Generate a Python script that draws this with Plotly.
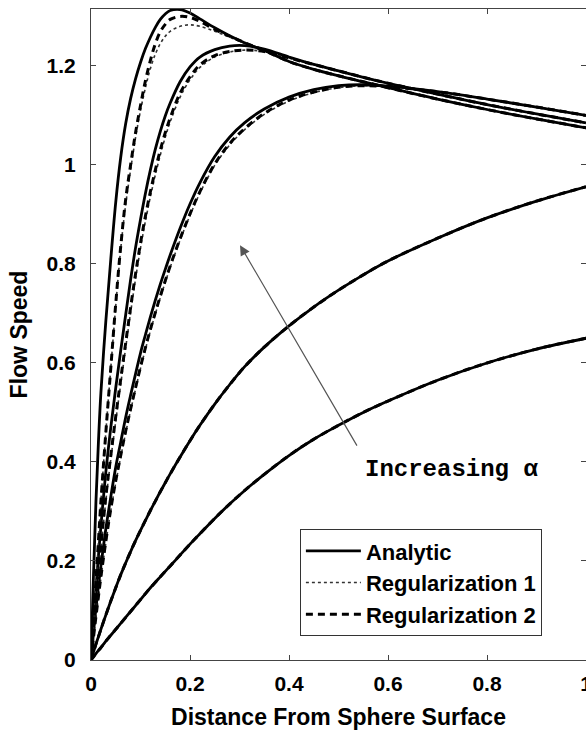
import plotly.graph_objects as go

# Distance from sphere surface (common sampling grid)
DIST = [0, 0.005, 0.01, 0.015, 0.02, 0.03, 0.04, 0.05, 0.06, 0.07, 0.08, 0.09, 0.10,
        0.11, 0.12, 0.13, 0.14, 0.15, 0.16, 0.18, 0.20, 0.22, 0.25, 0.28, 0.31, 0.35,
        0.40, 0.45, 0.50, 0.55, 0.60, 0.70, 0.80, 0.90, 1.00]

# Analytic flow speed, alpha increasing from 1 to 5
ANALYTIC_1 = [0, 0.0065, 0.013, 0.019, 0.025, 0.038, 0.05, 0.062, 0.074, 0.086, 0.098, 0.11, 0.122,
              0.134, 0.146, 0.157, 0.168, 0.179, 0.19, 0.212, 0.234, 0.255, 0.286, 0.315, 0.342, 0.375,
              0.413, 0.446, 0.474, 0.5, 0.523, 0.565, 0.6, 0.628, 0.65]
ANALYTIC_2 = [0, 0.016, 0.032, 0.047, 0.062, 0.091, 0.119, 0.146, 0.172, 0.196, 0.219, 0.241, 0.262,
              0.282, 0.302, 0.321, 0.34, 0.358, 0.376, 0.41, 0.443, 0.474, 0.517, 0.556, 0.592, 0.632,
              0.675, 0.713, 0.747, 0.778, 0.806, 0.852, 0.893, 0.927, 0.956]
ANALYTIC_3 = [0, 0.055, 0.105, 0.15, 0.19, 0.265, 0.33, 0.39, 0.44, 0.49, 0.535, 0.578, 0.62,
              0.657, 0.693, 0.727, 0.759, 0.789, 0.818, 0.872, 0.921, 0.964, 1.017, 1.056, 1.085, 1.113,
              1.137, 1.152, 1.16, 1.162, 1.159, 1.148, 1.133, 1.117, 1.10]
ANALYTIC_4 = [0, 0.075, 0.145, 0.21, 0.27, 0.38, 0.47, 0.55, 0.625, 0.697, 0.768, 0.833, 0.89,
              0.943, 0.99, 1.032, 1.068, 1.099, 1.125, 1.168, 1.198, 1.218, 1.233, 1.24, 1.241, 1.234,
              1.218, 1.203, 1.19, 1.177, 1.165, 1.143, 1.122, 1.103, 1.085]
ANALYTIC_5 = [0, 0.17, 0.32, 0.44, 0.54, 0.685, 0.81, 0.925, 1.015, 1.083, 1.134, 1.174, 1.207,
              1.235, 1.258, 1.278, 1.294, 1.305, 1.312, 1.314, 1.307, 1.295, 1.277, 1.261, 1.247, 1.231,
              1.209, 1.193, 1.18, 1.168, 1.156, 1.133, 1.112, 1.093, 1.075]

# Regularization 1 (dotted)
REG1_1 = ANALYTIC_1
REG1_2 = ANALYTIC_2
REG1_3 = [0, 0.044, 0.086, 0.126, 0.165, 0.237, 0.302, 0.358, 0.41, 0.459, 0.504, 0.547, 0.589,
          0.628, 0.665, 0.699, 0.732, 0.763, 0.793, 0.848, 0.898, 0.943, 0.999, 1.04, 1.071, 1.102,
          1.129, 1.146, 1.156, 1.16, 1.158, 1.148, 1.133, 1.117, 1.10]
REG1_4 = [0, 0.058, 0.116, 0.174, 0.224, 0.322, 0.405, 0.483, 0.557, 0.63, 0.702, 0.77, 0.832,
          0.887, 0.936, 0.98, 1.02, 1.056, 1.087, 1.137, 1.172, 1.197, 1.218, 1.228, 1.232, 1.229,
          1.216, 1.203, 1.19, 1.177, 1.165, 1.143, 1.122, 1.103, 1.085]
REG1_5 = [0, 0.08, 0.16, 0.24, 0.32, 0.46, 0.59, 0.715, 0.83, 0.92, 0.99, 1.055, 1.11,
          1.156, 1.195, 1.224, 1.245, 1.26, 1.27, 1.28, 1.283, 1.28, 1.27, 1.258, 1.246, 1.231,
          1.209, 1.193, 1.18, 1.168, 1.156, 1.133, 1.112, 1.093, 1.075]

# Regularization 2 (dashed)
REG2_1 = ANALYTIC_1
REG2_2 = ANALYTIC_2
REG2_3 = [0, 0.045, 0.088, 0.128, 0.168, 0.24, 0.305, 0.362, 0.413, 0.462, 0.507, 0.55, 0.592,
          0.631, 0.668, 0.702, 0.735, 0.766, 0.796, 0.851, 0.901, 0.946, 1.002, 1.043, 1.073, 1.104,
          1.131, 1.147, 1.157, 1.16, 1.158, 1.148, 1.133, 1.117, 1.10]
REG2_4 = [0, 0.06, 0.12, 0.18, 0.23, 0.33, 0.413, 0.492, 0.567, 0.64, 0.712, 0.78, 0.842,
          0.897, 0.946, 0.99, 1.03, 1.065, 1.095, 1.145, 1.178, 1.202, 1.221, 1.229, 1.232, 1.229,
          1.216, 1.203, 1.19, 1.177, 1.165, 1.143, 1.122, 1.103, 1.085]
REG2_5 = [0, 0.08, 0.16, 0.24, 0.32, 0.46, 0.59, 0.72, 0.835, 0.93, 1.0, 1.065, 1.12,
          1.17, 1.211, 1.245, 1.269, 1.284, 1.294, 1.3, 1.298, 1.29, 1.274, 1.26, 1.247, 1.231,
          1.209, 1.193, 1.18, 1.168, 1.156, 1.133, 1.112, 1.093, 1.075]

X_TICKS = [0, 0.2, 0.4, 0.6, 0.8, 1]
Y_TICKS = [0, 0.2, 0.4, 0.6, 0.8, 1, 1.2]

ANALYTIC = [ANALYTIC_1, ANALYTIC_2, ANALYTIC_3, ANALYTIC_4, ANALYTIC_5]
REG1 = [REG1_1, REG1_2, REG1_3, REG1_4, REG1_5]
REG2 = [REG2_1, REG2_2, REG2_3, REG2_4, REG2_5]

SANS = "Liberation Sans"
MONO = "Liberation Mono"

fig = go.Figure()

for i in range(5):
    first = (i == 4)
    fig.add_trace(go.Scatter(
        x=DIST, y=REG1[i], mode="lines", name="Regularization 1",
        line=dict(color="#333", width=1.6, dash="dot", shape="spline"),
        showlegend=first, legendrank=2, legendgroup="r1"))
    fig.add_trace(go.Scatter(
        x=DIST, y=REG2[i], mode="lines", name="Regularization 2",
        line=dict(color="black", width=3, dash="7px,5px", shape="spline"),
        showlegend=first, legendrank=3, legendgroup="r2"))
    fig.add_trace(go.Scatter(
        x=DIST, y=ANALYTIC[i], mode="lines", name="Analytic",
        line=dict(color="black", width=2.8, shape="spline"),
        showlegend=first, legendrank=1, legendgroup="an"))

axis_common = dict(
    showline=True, linecolor="#444", linewidth=1, mirror="ticks",
    ticks="inside", ticklen=5, tickcolor="#444", tickwidth=1,
    showgrid=False, zeroline=False, automargin=False,
    tickfont=dict(family=SANS, size=21, color="black", weight="bold"),
)

fig.update_xaxes(range=[0, 1], tickvals=X_TICKS, ticklabelstandoff=5,
                 ticklabeloverflow="allow",
                 title=dict(text="Distance From Sphere Surface", standoff=14,
                            font=dict(family=SANS, size=23, color="black", weight="bold")),
                 **axis_common)
fig.update_yaxes(range=[0, 1.315], tickvals=Y_TICKS, ticklabelstandoff=10,
                 title=dict(text="Flow Speed", standoff=12,
                            font=dict(family=SANS, size=23, color="black", weight="bold")),
                 **axis_common)

fig.add_annotation(x=0.301, y=0.838, ax=0.539, ay=0.430, xref="x", yref="y",
                   axref="x", ayref="y", text="", showarrow=True,
                   arrowhead=2, arrowsize=1.7, arrowwidth=1.2, arrowcolor="#555", standoff=0)
fig.add_annotation(x=0.729, y=0.384, xref="x", yref="y", text="Increasing α",
                   showarrow=False,
                   font=dict(family=MONO, size=24, color="black", weight="bold"))

fig.update_layout(
    width=586, height=734,
    margin=dict(l=91, r=0, t=9, b=74),
    paper_bgcolor="white", plot_bgcolor="white",
    legend=dict(x=0.422, y=0.201, xanchor="left", yanchor="top",
                bgcolor="white", bordercolor="#333", borderwidth=1,
                font=dict(family=SANS, size=22, color="black", weight="bold"),
                traceorder="grouped", tracegroupgap=0, itemwidth=55),
    showlegend=True,
)

fig.write_html("out.html")
